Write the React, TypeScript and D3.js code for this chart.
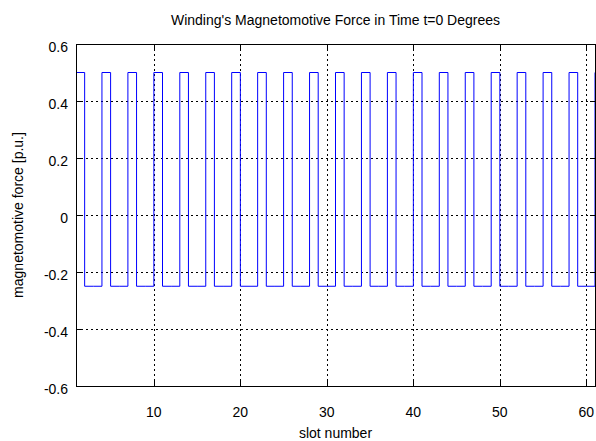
import React, {useRef, useEffect} from 'react'
import * as d3 from 'd3'

// slot numbers along the stator
const slots = d3.range(1, 62)

// mmf value of each slot [p.u.]
const mmf = [
	0.5, -0.25, -0.25, 0.5, -0.25, -0.25, 0.5, -0.25, -0.25, 0.5,
	-0.25, -0.25, 0.5, -0.25, -0.25, 0.5, -0.25, -0.25, 0.5, -0.25,
	-0.25, 0.5, -0.25, -0.25, 0.5, -0.25, -0.25, 0.5, -0.25, -0.25,
	0.5, -0.25, -0.25, 0.5, -0.25, -0.25, 0.5, -0.25, -0.25, 0.5,
	-0.25, -0.25, 0.5, -0.25, -0.25, 0.5, -0.25, -0.25, 0.5, -0.25,
	-0.25, 0.5, -0.25, -0.25, 0.5, -0.25, -0.25, 0.5, -0.25, -0.25,
	0.5
]

const xTicks = [10, 20, 30, 40, 50, 60]
const yTicks = [-0.6, -0.4, -0.2, 0, 0.2, 0.4, 0.6]

const title = "Winding's Magnetomotive Force in Time t=0 Degrees"
const xLabel = 'slot number'
const yLabel = 'magnetomotive force [p.u.]'

export default function App() {
	const ref = useRef<SVGSVGElement>(null)

	const layout = {width: 596, height: 441, left: 76, right: 595, top: 44, bottom: 386}
	const font = '"Liberation Sans", Arial, Helvetica, sans-serif'
	const fs = 14

	useEffect(() => {
		const svg = d3.select(ref.current)
		svg.selectAll('*').remove()

		const x = d3.scaleLinear().domain([1, 61]).range([layout.left, layout.right])
		const y = d3.scaleLinear().domain([-0.6, 0.6]).range([layout.bottom, layout.top])

		svg.append('rect')
			.attr('width', layout.width).attr('height', layout.height)
			.attr('fill', 'white')

		// dotted grid
		const grid = svg.append('g')
			.attr('stroke', 'black').attr('stroke-width', 1)
			.attr('stroke-dasharray', '2,3')
		grid.selectAll('.gx')
			.data(xTicks)
			.join('line')
			.attr('x1', d => Math.round(x(d)) + 0.5).attr('x2', d => Math.round(x(d)) + 0.5)
			.attr('y1', layout.top).attr('y2', layout.bottom)
		grid.selectAll('.gy')
			.data(yTicks.filter(d => Math.abs(d) < 0.6))
			.join('line')
			.attr('y1', d => Math.round(y(d)) + 0.5).attr('y2', d => Math.round(y(d)) + 0.5)
			.attr('x1', layout.left).attr('x2', layout.right)

		// the mmf staircase
		const line = d3.line<number>()
			.x((d, i) => x(slots[i]))
			.y(d => y(d))
			.curve(d3.curveStepAfter)

		svg.append('path')
			.datum(mmf)
			.attr('d', line)
			.attr('fill', 'none')
			.attr('stroke', '#0000ff')
			.attr('stroke-width', 1)

		// box and inward ticks on all four sides
		const tl = 5
		const axes = svg.append('g').attr('stroke', 'black').attr('stroke-width', 1).attr('fill', 'none')
		axes.append('rect')
			.attr('x', layout.left + 0.5).attr('y', layout.top + 0.5)
			.attr('width', layout.right - layout.left).attr('height', layout.bottom - layout.top)
		xTicks.forEach(t => {
			const px = Math.round(x(t)) + 0.5
			axes.append('line').attr('x1', px).attr('x2', px).attr('y1', layout.bottom).attr('y2', layout.bottom - tl)
			axes.append('line').attr('x1', px).attr('x2', px).attr('y1', layout.top).attr('y2', layout.top + tl)
		})
		yTicks.forEach(t => {
			const py = Math.round(y(t)) + 0.5
			axes.append('line').attr('y1', py).attr('y2', py).attr('x1', layout.left).attr('x2', layout.left + tl)
			axes.append('line').attr('y1', py).attr('y2', py).attr('x1', layout.right).attr('x2', layout.right - tl)
		})

		// tick labels
		svg.append('g').selectAll('text')
			.data(xTicks)
			.join('text')
			.attr('x', d => x(d)).attr('y', 417)
			.attr('text-anchor', 'middle')
			.attr('font-family', font).attr('font-size', fs)
			.text(d => d)

		svg.append('g').selectAll('text')
			.data(yTicks)
			.join('text')
			.attr('x', 68).attr('y', d => y(d) + 8)
			.attr('text-anchor', 'end')
			.attr('font-family', font).attr('font-size', fs)
			.text(d => String(d))

		svg.append('text')
			.attr('x', (layout.left + layout.right) / 2).attr('y', 25)
			.attr('text-anchor', 'middle')
			.attr('font-family', font).attr('font-size', fs)
			.text(title)

		svg.append('text')
			.attr('x', (layout.left + layout.right) / 2).attr('y', 438)
			.attr('text-anchor', 'middle')
			.attr('font-family', font).attr('font-size', fs)
			.text(xLabel)

		svg.append('text')
			.attr('transform', `translate(23, ${(layout.top + layout.bottom) / 2}) rotate(-90)`)
			.attr('text-anchor', 'middle')
			.attr('font-family', font).attr('font-size', fs)
			.text(yLabel)
	}, [])

	return (
		<svg ref={ref} width={layout.width} height={layout.height}
			style={{position: 'absolute', left: 0, top: 0, display: 'block'}} />
	)
}
